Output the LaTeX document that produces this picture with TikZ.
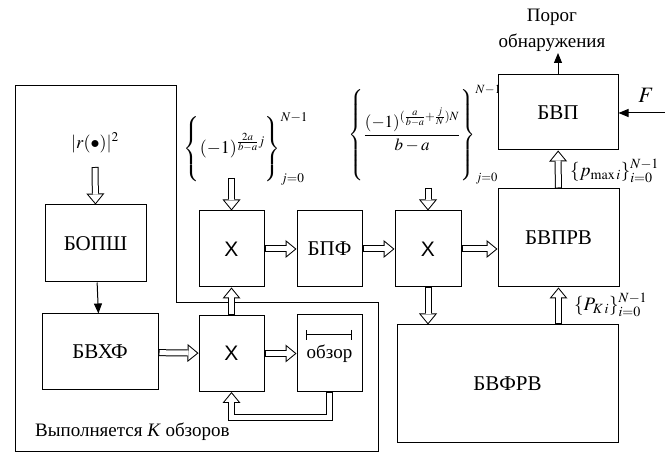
\documentclass[tikz,border=0pt]{standalone}
\usepackage{mathptmx}
\usepackage{fontspec}
\setmainfont{Liberation Serif}
\newfontfamily\xfont{Liberation Sans}
\usetikzlibrary{arrows.meta}

\begin{document}
\begin{tikzpicture}[x=1pt, y=-1pt,
  block/.style={draw, fill=white, line width=1pt, inner sep=0pt, font=\rmfamily\fontsize{21}{24}\selectfont},
  mult/.style={block, minimum width=65pt, minimum height=76pt, font=\xfont\fontsize{21}{24}\selectfont},
  wide/.style={line width=7pt, -{Triangle[length=11pt, width=18pt, line width=0pt]},
    postaction={draw=white, line width=5pt, shorten <=1pt, shorten >=1.6pt,
      -{Triangle[length=8.4pt, width=13.8pt, line width=0pt]}}},
  thin/.style={line width=1pt, -{Triangle[length=10pt, width=8pt]}},
  lbl/.style={inner sep=0pt, font=\rmfamily\fontsize{18}{20}\selectfont}]
  \useasboundingbox (0,0) rectangle (665,454);

  % frame of the repeated part
  \draw[line width=1pt] (15,86) -- (176,86) -- (176,303) -- (378,303) -- (378,452) -- (15,452) -- cycle;
  \node[lbl, anchor=west, font=\fontsize{19}{21}\selectfont] (kobz) at (35,432) {Выполняется \textit{K} обзоров};

  % inputs
  \node[lbl] (r2) at (95,143) {$|r(\bullet)|^2$};
  \node[lbl] (f1) at (246,149) {$\left\{\rule[-26pt]{0pt}{62pt}(-1)^{\frac{2a}{b-a}j}\right\}_{j=0}^{N-1}$};
  \node[lbl, font=\fontsize{17}{19}\selectfont] (f2) at (425,135) {$\left\{\rule[-42pt]{0pt}{92pt}\displaystyle\frac{(-1)^{(\frac{a}{b-a}+\frac{j}{N})N}}{b-a}\right\}_{j=0}^{N-1}$};
  \node[lbl, align=center, font=\fontsize{19}{26}\selectfont] (porog) at (552,30) {Порог\\обнаружения};
  \node[lbl, font=\fontsize{22}{24}\selectfont] (F) at (646,95) {$F$};
  \node[lbl, anchor=west, font=\fontsize{19}{21}\selectfont] (pmax) at (570,171) {$\{p_{\max i}\}_{i=0}^{N-1}$};
  \node[lbl, anchor=west, font=\fontsize{19}{21}\selectfont] (pk) at (574,305) {$\{P_{K\,i}\}_{i=0}^{N-1}$};
  \coordinate (r2a) at (95,167);
  \coordinate (f1a) at (231.5,178);
  \coordinate (f2a) at (428,188);
  \coordinate (Fin) at (665,113);
  \coordinate (pout) at (558,53);

  % blocks
  \node[block, minimum width=101pt, minimum height=77pt] (bopsh) at (95.5,243.5) {БОПШ};
  \node[block, minimum width=116pt, minimum height=76pt] (bvhf) at (100,352) {БВХФ};
  \node[mult] (x1) at (231.5,249) {X};
  \node[block, minimum width=65pt, minimum height=76pt] (bpf) at (329.5,249) {БПФ};
  \node[mult] (x2) at (231.5,353.5) {X};
  \node[block, minimum width=65pt, minimum height=77pt, font=\fontsize{19}{21}\selectfont] (obzor) at (329.5,353.5) {\raisebox{-4pt}{обзор}};
  \node[mult, minimum width=66pt] (x3) at (428,249) {X};
  \node[block, minimum width=121pt, minimum height=98pt] (bvprv) at (558.5,238) {БВПРВ};
  \node[block, minimum width=120pt, minimum height=75pt] (bvp) at (558,112.5) {БВП};
  \node[block, minimum width=221pt, minimum height=118pt] (bvfrv) at (507.5,384) {БВФРВ};
  \draw[line width=1pt, {Bar[width=10pt]}-{Bar[width=10pt]}] (306,335) -- (352,335);

  % connectors
  \draw[wide] (r2a) -- (bopsh.north);
  \draw[thin] (bopsh) -- (bvhf);
  \draw[wide] (bvhf) -- (x2);
  \draw[wide] (x2) -- (obzor);
  \draw[wide] (x2) -- (x1);
  \draw[wide] (obzor.south) -- ++(0,25) -| (x2.south);
  \draw[wide] (f1a) -- (x1.north);
  \draw[wide] (x1) -- (bpf);
  \draw[wide] (bpf) -- (x3);
  \draw[wide] (f2a) -- (x3.north);
  \draw[wide] (x3.east) -- (bvprv.west |- x3.east);
  \draw[wide] (x3.south) -- (x3.south |- bvfrv.north);
  \draw[wide] (bvfrv.north -| bvprv) -- (bvprv.south);
  \draw[wide] (bvprv) -- (bvp);
  \draw[thin] (bvp) -- (pout);
  \draw[thin] (Fin) -- (bvp.east |- Fin);
\end{tikzpicture}
\end{document}
